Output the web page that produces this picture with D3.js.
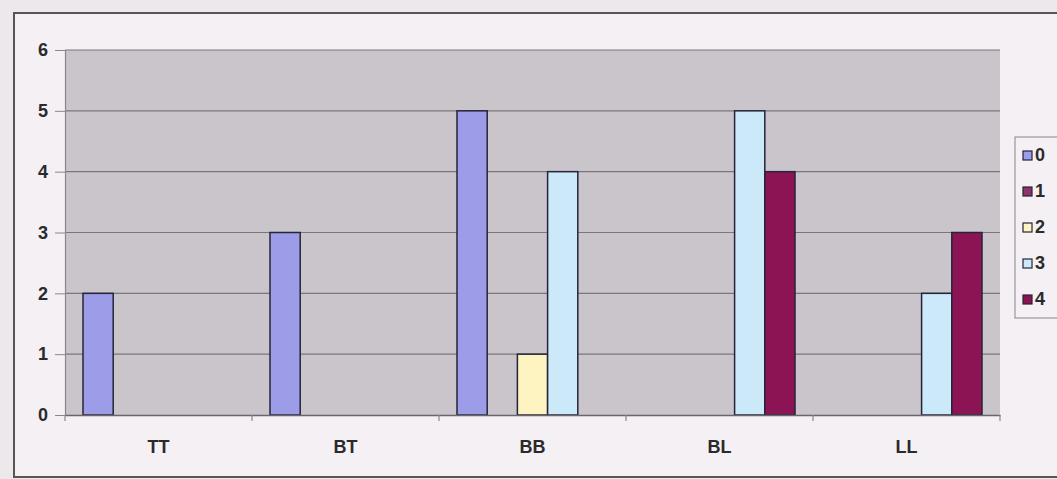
<!DOCTYPE html>
<html>
<head>
<meta charset="utf-8">
<script src="https://cdn.jsdelivr.net/npm/d3@7"></script>
<style>
  html, body { margin: 0; padding: 0; background: #ece8ec; }
  svg { display: block; }
  text { font-family: "Liberation Sans", Arial, sans-serif; font-weight: bold; fill: #2a2a2a; }
</style>
</head>
<body>
<svg id="chart" width="1057" height="479"></svg>
<script>
// Categories along the x axis
const categories = ["TT", "BT", "BB", "BL", "LL"];
// Series names (legend entries)
const seriesNames = ["0", "1", "2", "3", "4"];
// Values per series, one per category
const series0 = [2, 3, 5, 0, 0];
const series1 = [0, 0, 0, 0, 0];
const series2 = [0, 0, 1, 0, 0];
const series3 = [0, 0, 4, 5, 2];
const series4 = [0, 0, 0, 4, 3];
// Y axis tick values
const yTicks = [0, 1, 2, 3, 4, 5, 6];

const seriesValues = [series0, series1, series2, series3, series4];
const colors = ["#9c9ce8", "#8e3468", "#fdf4c2", "#cbe9f8", "#8c1454"];

const svg = d3.select("#chart");
const W = 1057, H = 479;
const FONT = 18;

// Chart area (paper)
svg.append("rect").attr("x", 0).attr("y", 0).attr("width", W).attr("height", H).attr("fill", "#ece8ec");
svg.append("rect").attr("x", 14).attr("y", 13).attr("width", W + 20).attr("height", 464)
  .attr("fill", "#f4f0f4").attr("stroke", "#555").attr("stroke-width", 2);

const plot = { left: 65, top: 50, right: 1000, bottom: 415 };

const x0 = d3.scaleBand().domain(categories).range([plot.left, plot.right]).padding(0);
const x1 = d3.scaleBand().domain(seriesNames).range([18, x0.bandwidth() - 18]).padding(0);
const y = d3.scaleLinear().domain([0, 6]).range([plot.bottom, plot.top]);

// Plot area background
svg.append("rect")
  .attr("x", plot.left).attr("y", plot.top)
  .attr("width", plot.right - plot.left).attr("height", plot.bottom - plot.top)
  .attr("fill", "#c9c5ca");

// Horizontal gridlines
svg.append("g").selectAll("line").data(yTicks.filter(d => d > 0)).join("line")
  .attr("x1", plot.left).attr("x2", plot.right)
  .attr("y1", d => y(d)).attr("y2", d => y(d))
  .attr("stroke", "#7a767c").attr("stroke-width", 1.2);

// Bars
const groups = svg.append("g").selectAll("g").data(categories).join("g")
  .attr("transform", d => `translate(${x0(d)},0)`);
groups.selectAll("rect")
  .data((c, ci) => seriesNames.map((s, si) => ({ s, si, v: seriesValues[si][ci] })).filter(d => d.v > 0))
  .join("rect")
  .attr("x", d => x1(d.s)).attr("width", x1.bandwidth())
  .attr("y", d => y(d.v)).attr("height", d => y(0) - y(d.v))
  .attr("fill", d => colors[d.si])
  .attr("stroke", "#24243a").attr("stroke-width", 1.5);

// Y axis
const yAxis = svg.append("g").attr("transform", `translate(${plot.left},0)`)
  .call(d3.axisLeft(y).tickValues(yTicks).tickSize(10).tickPadding(7).tickFormat(d3.format("d")));
yAxis.select(".domain").attr("stroke", "#8a868c").attr("stroke-width", 1.2);
yAxis.selectAll(".tick line").attr("stroke", "#8a868c");
yAxis.selectAll(".tick text").attr("font-size", FONT).attr("font-weight", "bold")
  .attr("font-family", "Liberation Sans, Arial, sans-serif").attr("fill", "#2a2a2a");

// X axis
const xAxis = svg.append("g").attr("transform", `translate(0,${plot.bottom})`)
  .call(d3.axisBottom(x0).tickSize(0).tickPadding(25));
xAxis.select(".domain").attr("stroke", "#6a666c").attr("stroke-width", 1.5);
xAxis.selectAll(".tick text").attr("font-size", FONT).attr("font-weight", "bold")
  .attr("font-family", "Liberation Sans, Arial, sans-serif").attr("fill", "#2a2a2a");
// Category boundary tick marks
svg.append("g").selectAll("line")
  .data(categories.map(c => x0(c)).concat([plot.right]))
  .join("line")
  .attr("x1", d => d).attr("x2", d => d)
  .attr("y1", plot.bottom).attr("y2", plot.bottom + 6)
  .attr("stroke", "#8a868c").attr("stroke-width", 1.2);

// Legend
const legend = svg.append("g");
legend.append("rect").attr("x", 1015).attr("y", 137).attr("width", 80).attr("height", 181)
  .attr("fill", "#f4f0f4").attr("stroke", "#9a969c").attr("stroke-width", 1.2);
const items = legend.selectAll("g").data(seriesNames).join("g")
  .attr("transform", (d, i) => `translate(1023,${155 + i * 36})`);
items.append("rect").attr("x", 0).attr("y", -4).attr("width", 9).attr("height", 9)
  .attr("fill", (d, i) => colors[i]).attr("stroke", "#24243a").attr("stroke-width", 1.2);
items.append("text").attr("x", 12).attr("y", 0).attr("dy", "0.36em")
  .attr("font-size", FONT).text(d => d);
</script>
</body>
</html>
